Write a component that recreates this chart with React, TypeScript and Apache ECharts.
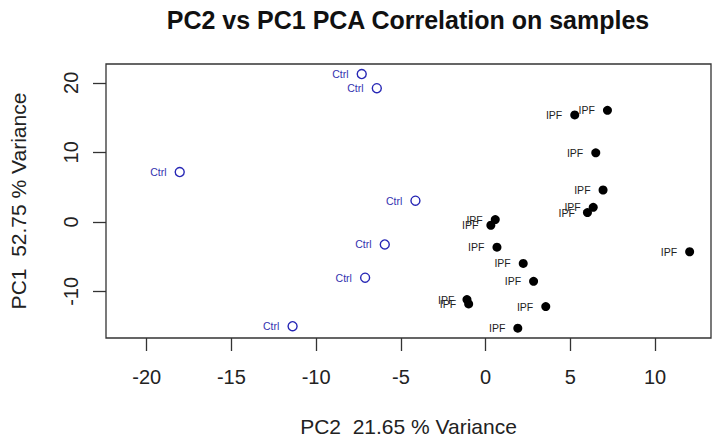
import React, { useEffect, useRef } from "react";
import * as echarts from "echarts";

// PC2 (x) and PC1 (y) scores per sample group
const ctrlX = [-7.31, -6.42, -18.05, -4.14, -5.95, -7.11, -11.39];
const ctrlY = [21.25, 19.23, 7.16, 3.05, -3.25, -8.02, -15.0];
const ipfX = [5.26, 7.19, 6.5, 6.93, 6.35, 6.01, 0.57, 0.31, 0.67, 12.04, 2.22, 2.83, -1.1, -1.0, 3.55, 1.9];
const ipfY = [15.37, 16.04, 9.93, 4.58, 2.09, 1.33, 0.33, -0.49, -3.64, -4.3, -5.97, -8.55, -11.17, -11.8, -12.18, -15.29];

const xTicks = [-20, -15, -10, -5, 0, 5, 10];
const yTicks = [-10, 0, 10, 20];

const titleText = "PC2 vs PC1 PCA Correlation on samples";
const xName = "PC2  21.65 % Variance";
const yName = "PC1  52.75 % Variance";

const FONT = "'Liberation Sans', Arial, Helvetica, sans-serif";

export default function App() {
  const ref = useRef<HTMLDivElement>(null);
  useEffect(() => {
    document.body.style.margin = "0";
    const chart = echarts.init(ref.current!, null, { renderer: "svg" });
    const zip = (xs: number[], ys: number[]) => xs.map((x, i) => [x, ys[i]]);
    const blue = "#2727b5";
    chart.setOption({
      animation: false,
      backgroundColor: "#ffffff",
      textStyle: { fontFamily: FONT },
      graphic: [
        {
          type: "text",
          x: 408,
          y: 20,
          style: {
            text: titleText,
            font: `bold 25px ${FONT}`,
            fill: "#111",
            textAlign: "center",
            textVerticalAlign: "middle",
          },
        },
      ],
      grid: {
        left: 105,
        top: 64,
        right: 5,
        bottom: 103,
        show: true,
        borderColor: "#333",
        borderWidth: 1.3,
        backgroundColor: "transparent",
      },
      xAxis: {
        type: "value",
        min: -22.4,
        max: 13.3,
        name: xName,
        nameLocation: "middle",
        nameGap: 78,
        nameTextStyle: { fontSize: 21, color: "#222", fontFamily: FONT },
        axisLine: { show: false, onZero: false },
        splitLine: { show: false },
        axisTick: {
          show: true,
          length: 13,
          customValues: xTicks,
          lineStyle: { color: "#333", width: 1.3 },
        },
        axisLabel: {
          customValues: xTicks,
          margin: 29,
          fontSize: 20,
          color: "#222",
          fontFamily: FONT,
        },
      },
      yAxis: {
        type: "value",
        min: -16.7,
        max: 22.7,
        name: yName,
        nameLocation: "middle",
        nameRotate: 90,
        nameGap: 77,
        nameTextStyle: { fontSize: 21, color: "#222", fontFamily: FONT },
        axisLine: { show: false, onZero: false },
        splitLine: { show: false },
        axisTick: {
          show: true,
          length: 13,
          customValues: yTicks,
          lineStyle: { color: "#333", width: 1.3 },
        },
        axisLabel: {
          customValues: yTicks,
          rotate: 90,
          margin: 25,
          fontSize: 20,
          color: "#222",
          fontFamily: FONT,
        },
      },
      series: [
        {
          name: "Ctrl",
          type: "scatter",
          data: zip(ctrlX, ctrlY),
          symbol: "circle",
          symbolSize: 9,
          itemStyle: { color: "rgba(255,255,255,0)", borderColor: blue, borderWidth: 1.4, opacity: 1 },
          label: {
            show: true,
            formatter: "{a}",
            position: "left",
            distance: 8,
            fontSize: 10.5,
            color: "#3232b0",
            fontFamily: FONT,
          },
        },
        {
          name: "IPF",
          type: "scatter",
          data: zip(ipfX, ipfY),
          symbol: "circle",
          symbolSize: 9,
          itemStyle: { color: "#000", opacity: 1 },
          label: {
            show: true,
            formatter: "{a}",
            position: "left",
            distance: 8,
            fontSize: 10.5,
            color: "#222",
            fontFamily: FONT,
          },
        },
      ],
    });
    return () => chart.dispose();
  }, []);
  return <div ref={ref} style={{ width: 716, height: 442 }} />;
}
